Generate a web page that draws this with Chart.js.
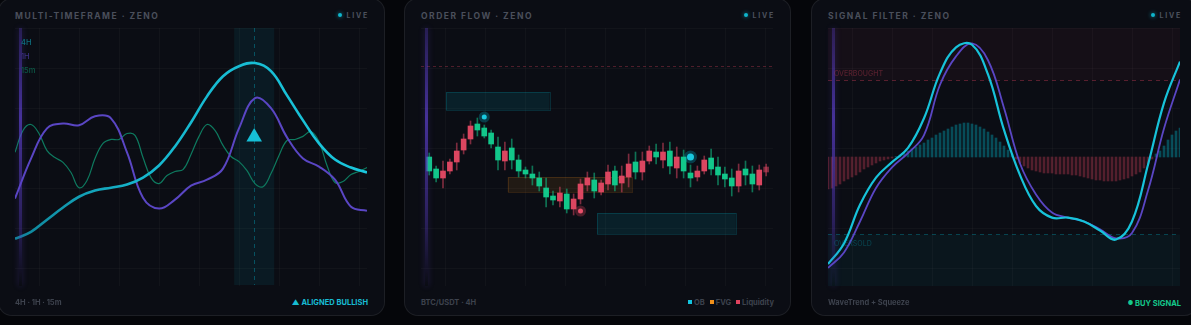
<!DOCTYPE html>
<html>
<head>
<meta charset="utf-8">
<title>Zeno panels</title>
<script src="https://cdn.jsdelivr.net/npm/chart.js@4.4.1/dist/chart.umd.min.js"></script>
<style>
  html, body { margin: 0; padding: 0; }
  body {
    width: 1191px; height: 325px; overflow: hidden; position: relative;
    background: #05060a;
    font-family: Inter, "Noto Sans", sans-serif;
  }
  .card {
    position: absolute; top: -2px; width: 387px; height: 318px;
    box-sizing: border-box; border: 1px solid rgba(255,255,255,0.075);
    border-radius: 14px; background: #0b0d14; overflow: hidden;
  }
  .title {
    position: absolute; left: 16px; top: 12px; font-size: 8.5px; line-height: 10px;
    font-weight: 700; letter-spacing: 1.5px; color: #4a4f5b; white-space: nowrap;
  }
  .live {
    position: absolute; right: 15px; top: 12px; font-size: 7px; line-height: 10px;
    font-weight: 700; letter-spacing: 1.8px; color: #4d525e; white-space: nowrap;
  }
  .live i {
    display: inline-block; width: 4px; height: 4px; border-radius: 50%;
    background: #0fb5cc; box-shadow: 0 0 4px rgba(15,181,204,.8);
    margin-right: 4px; vertical-align: 1px;
  }
  .plot { position: absolute; left: 16px; top: 29px; width: 352px; height: 258px; }
  .grid {
    position: absolute; left: 0; top: 0; right: 0; bottom: 0;
    background-image:
      linear-gradient(to right, rgba(255,255,255,0.028) 1px, transparent 1px),
      linear-gradient(to bottom, rgba(255,255,255,0.028) 1px, transparent 1px);
    background-size: 40px 40px; background-position: 24px 0;
  }
  .plot canvas { position: absolute; left: 0; top: 0; }
  .rail {
    position: absolute; left: 4px; top: 0; width: 3px; height: 258px;
    background: linear-gradient(180deg, rgba(90,60,200,0.35), rgba(95,65,210,0.7) 35%, rgba(90,60,200,0.4) 75%, rgba(90,60,200,0));
    box-shadow: 0 0 6px rgba(95,65,210,0.3);
  }
  .tag { position: absolute; left: 6px; font-size: 7.5px; line-height: 9px; font-weight: 500; white-space: nowrap; }
  .foot {
    position: absolute; left: 16px; top: 299px; font-size: 7.5px; line-height: 10px;
    font-weight: 700; color: #3d424d; white-space: nowrap;
  }
  .foot.right { left: auto; right: 16px; }
  .sq { display: inline-block; width: 4px; height: 4px; margin: 0 2px 0 5px; vertical-align: 1px; }
</style>
</head>
<body>

<div class="card" style="left:-2px">
  <div class="title">MULTI-TIMEFRAME · ZENO</div>
  <div class="live"><i></i>LIVE</div>
  <div class="plot">
    <div class="grid"></div>
    <canvas id="mtfChart" width="352" height="258"></canvas>
    <div class="rail"></div>
    <div class="tag" style="top:10px;color:#0e6f80">4H</div>
    <div class="tag" style="top:24px;color:#3d3183">1H</div>
    <div class="tag" style="top:38px;color:#0c5a47">15m</div>
  </div>
  <div class="foot">4H · 1H · 15m</div>
  <div class="foot right" style="color:#17bcd3">▲ ALIGNED BULLISH</div>
</div>

<div class="card" style="left:404px">
  <div class="title">ORDER FLOW · ZENO</div>
  <div class="live"><i></i>LIVE</div>
  <div class="plot">
    <div class="grid"></div>
    <canvas id="flowChart" width="352" height="258"></canvas>
    <div class="rail"></div>
  </div>
  <div class="foot">BTC/USDT · 4H</div>
  <div class="foot right"><span class="sq" style="background:#13c4de"></span>OB<span class="sq" style="background:#f0901a"></span>FVG<span class="sq" style="background:#e0435e"></span>Liquidity</div>
</div>

<div class="card" style="left:811px">
  <div class="title">SIGNAL FILTER · ZENO</div>
  <div class="live"><i></i>LIVE</div>
  <div class="plot">
    <div class="grid"></div>
    <canvas id="filterChart" width="352" height="258"></canvas>
    <div class="rail"></div>
    <div class="tag" id="obLabel" style="font-size:7px;color:rgba(224,67,94,0.32)">OVERBOUGHT</div>
    <div class="tag" id="osLabel" style="font-size:7px;color:rgba(0,188,212,0.25)">OVERSOLD</div>
  </div>
  <div class="foot">WaveTrend + Squeeze</div>
  <div class="foot right" style="color:#14c98c"><span style="font-size:6px;vertical-align:1px">●</span> BUY SIGNAL</div>
</div>

<script>
// --- Multi-timeframe data (0..100 score) ---
const fast15m = [51.8, 60.3, 62.6, 59.1, 52.5, 49.8, 47.9, 44, 38.1, 40.9, 49.4, 55.3, 56.8, 56.8, 59.1,
  58.4, 49.8, 42, 39.7, 42.8, 44.4, 45.1, 51, 58, 62.6, 60.3, 54.5, 50.2, 48.2, 44.7, 39.7, 38.5, 43.6,
  50.6, 56.4, 56.8, 58, 59.9, 56, 46.7, 40.1, 40.5, 43.2, 44.4, 45.9];
const mid1h = [33.9, 49.4, 61.1, 63, 62.3, 65.8, 65, 51.8, 34.2, 30, 33.5, 38.9, 41.2, 45.5, 61.1, 72.8,
  68.9, 57.6, 49.4, 46.3, 41.2, 30.7, 29.2];
const slow4h = [18.3, 21, 25.7, 30.4, 34.6, 37, 38.1, 39.3, 42, 46.7, 54.1, 63.4, 73.5, 81.3, 85.2, 86.4,
  83.3, 73.9, 64.2, 55.3, 49, 45.9, 44];
const alignZone = [27.4, 32.4];
const alignMark = [29.9, 57.8];

// --- Order flow data ---
const opens = [129, 122, 129, 138, 149, 161, 174, 170, 164, 156, 140, 149, 140, 129, 126, 122, 114, 103, 100, 107,
  91, 101, 116, 122, 109, 117, 128, 115, 124, 136, 128, 139, 149, 143, 148, 134, 143, 129, 122, 129,
  140, 131, 125, 121, 114, 129, 125, 116, 130, 133];
const closes = [143, 131, 122, 129, 138, 150, 161, 176, 172, 167, 153, 139, 152, 140, 130, 126, 122, 112, 104, 99,
  106, 91, 101, 115, 120, 108, 116, 129, 117, 123, 138, 128, 139, 148, 140, 149, 132, 143, 127, 123,
  129, 142, 133, 126, 122, 114, 131, 126, 115, 128];
const highs = [147, 134, 139, 141, 157, 166, 179, 182, 175, 170, 163, 158, 161, 145, 133, 134, 128, 122, 109, 113,
  111, 106, 121, 128, 127, 120, 135, 134, 134, 146, 148, 148, 154, 156, 157, 158, 153, 150, 135, 134,
  144, 151, 143, 133, 131, 136, 139, 134, 135, 136];
const lows = [125, 118, 112, 126, 130, 146, 156, 164, 162, 152, 130, 130, 131, 123, 122, 115, 109, 93, 95, 93,
  87, 85, 96, 109, 102, 105, 110, 109, 108, 113, 121, 120, 136, 136, 132, 126, 122, 122, 113, 119,
  126, 125, 115, 113, 104, 108, 115, 108, 110, 124];
const obZones = [[2.4, 17.5, 190, 208], [24.4, 44.6, 66, 87]];
const fvgZone = [11.4, 29.5, 108, 123];
const liquidityLevel = 234;
const obPoints = [[8, 183, 2.5], [38, 143, 3.5]];
const liqPoints = [[22, 89, 2.5]];

// --- Signal filter data ---
const wtFast = [-83, -67, -37, -16, -4, 7, 30, 65, 85, 87, 64, 21, -14, -38, -47, -47, -50, -57, -64, -50, -6, 42, 74];
const wtSlow = [-86, -74, -50, -24, -8, 3, 17, 56, 78, 88, 75, 38, -5, -29, -43, -47, -50, -56, -63, -59, -26, 22, 60];
const squeeze = [-32, -31, -29, -27, -24, -22, -20, -18, -15, -12, -10, -8, -6, -4, -3, -2, -1, 0.5, 2, 4,
  6, 8, 10, 12, 14, 17, 19, 22, 24, 26, 28, 30, 32, 33, 34, 34, 33, 32, 30, 28,
  25, 22, 19, 15, 11, 7, 3, -2, -6, -9, -11, -13, -14, -15, -16, -16, -16, -17, -17, -17,
  -17, -18, -18, -19, -20, -21, -22, -23, -23, -24, -24, -24, -24, -23, -22, -21, -19, -17, -15, -11,
  -7, -2, 3, 6, 11, 17, 22, 26, 29];
const overbought = 60;
const oversold = -60;

const CYAN = '#17c3da', PURPLE = '#5a46c4', GREEN = '#12c78a', RED = '#db4660';

function xy(values, step) { return values.map((v, i) => ({ x: i * step, y: v })); }

const base = {
  responsive: false, animation: false, events: [],
  layout: { padding: 0, autoPadding: false },
  plugins: { legend: { display: false }, tooltip: { enabled: false } }
};

// --- Multi-timeframe chart ---
const bandPlugin = {
  id: 'alignBand',
  beforeDatasetsDraw(chart) {
    const { ctx, chartArea: a, scales: { x } } = chart;
    const x0 = x.getPixelForValue(alignZone[0]), x1 = x.getPixelForValue(alignZone[1]);
    const xm = Math.round(x.getPixelForValue(alignMark[0])) + 0.5;
    ctx.save();
    ctx.fillStyle = 'rgba(0,188,212,0.08)';
    ctx.fillRect(x0, a.top, x1 - x0, a.bottom - a.top - 1);
    ctx.strokeStyle = 'rgba(0,188,212,0.35)';
    ctx.lineWidth = 1;
    ctx.setLineDash([4, 4]);
    ctx.beginPath(); ctx.moveTo(xm, a.top); ctx.lineTo(xm, a.bottom - 1); ctx.stroke();
    ctx.restore();
  }
};

new Chart(document.getElementById('mtfChart'), {
  type: 'line',
  data: {
    datasets: [
      {
        data: xy(slow4h, 2), borderWidth: 2.6, tension: 0.4, pointRadius: 0, order: 1,
        borderColor: c => {
          const a = c.chart.chartArea;
          if (!a) return CYAN;
          const g = c.chart.ctx.createLinearGradient(a.left, 0, a.right, 0);
          g.addColorStop(0, '#0f8499'); g.addColorStop(0.35, '#16b6cd'); g.addColorStop(1, '#1ac6dc');
          return g;
        }
      },
      { data: xy(mid1h, 2), borderColor: PURPLE, borderWidth: 2, tension: 0.4, pointRadius: 0, order: 2 },
      { data: xy(fast15m, 1), borderColor: '#0e7a5f', borderWidth: 1.2, tension: 0.4, pointRadius: 0, order: 3 },
      {
        type: 'scatter', data: [{ x: alignMark[0], y: alignMark[1] }], order: 0,
        pointStyle: 'triangle', pointRadius: 9, backgroundColor: '#16bfd6', borderWidth: 0
      }
    ]
  },
  options: {
    ...base,
    scales: {
      x: { type: 'linear', min: 0, max: 44, display: false },
      y: { min: 0, max: 100, display: false }
    }
  },
  plugins: [bandPlugin]
});

// --- Order flow chart ---
const bull = opens.map((o, i) => closes[i] >= opens[i]);
const last = opens.length - 1;
const bodyColors = bull.map((b, i) => i === last ? (b ? 'rgba(18,199,138,0.55)' : 'rgba(219,70,96,0.55)') : (b ? GREEN : RED));
const wickColors = bull.map(b => b ? 'rgba(18,199,138,0.55)' : 'rgba(219,70,96,0.55)');

const zonePlugin = {
  id: 'flowZones',
  beforeDatasetsDraw(chart) {
    const { ctx, chartArea: a, scales: { x, y } } = chart;
    const box = (z, fill, stroke) => {
      const x0 = x.getPixelForValue(z[0]), x1 = x.getPixelForValue(z[1]);
      const y0 = y.getPixelForValue(z[3]), y1 = y.getPixelForValue(z[2]);
      ctx.fillStyle = fill; ctx.fillRect(x0, y0, x1 - x0, y1 - y0);
      ctx.strokeStyle = stroke; ctx.lineWidth = 1;
      ctx.strokeRect(Math.round(x0) + 0.5, Math.round(y0) + 0.5, Math.round(x1 - x0), Math.round(y1 - y0));
    };
    ctx.save();
    obZones.forEach(z => box(z, 'rgba(0,170,200,0.12)', 'rgba(0,188,212,0.18)'));
    box(fvgZone, 'rgba(240,144,26,0.10)', 'rgba(240,144,26,0.16)');
    const ly = Math.round(y.getPixelForValue(liquidityLevel)) + 0.5;
    ctx.strokeStyle = 'rgba(224,67,94,0.32)';
    ctx.setLineDash([3, 3]);
    ctx.beginPath(); ctx.moveTo(a.left, ly); ctx.lineTo(a.right, ly); ctx.stroke();
    ctx.restore();
  }
};

new Chart(document.getElementById('flowChart'), {
  type: 'bar',
  data: {
    datasets: [
      {
        data: lows.map((l, i) => ({ x: i, y: [l, highs[i]] })),
        backgroundColor: wickColors, barThickness: 1, grouped: false, order: 4
      },
      {
        data: opens.map((o, i) => ({ x: i, y: [o, closes[i]] })),
        backgroundColor: bodyColors, barThickness: 5, grouped: false, minBarLength: 1, order: 3
      },
      {
        type: 'scatter', order: 2,
        data: obPoints.concat(liqPoints).map(p => ({ x: p[0], y: p[1] })),
        pointRadius: obPoints.concat(liqPoints).map(p => p[2] + 3),
        backgroundColor: obPoints.map(() => 'rgba(0,188,212,0.28)').concat(liqPoints.map(() => 'rgba(224,67,94,0.3)')),
        borderWidth: 0
      },
      {
        type: 'scatter', order: 1,
        data: obPoints.concat(liqPoints).map(p => ({ x: p[0], y: p[1] })),
        pointRadius: obPoints.concat(liqPoints).map(p => p[2]),
        backgroundColor: obPoints.map(() => '#19c9e0').concat(liqPoints.map(() => '#e8506a')),
        borderWidth: 0
      }
    ]
  },
  options: {
    ...base,
    scales: {
      x: { type: 'linear', offset: false, min: -1.2, max: 50, display: false },
      y: { min: 14, max: 272, display: false }
    }
  },
  plugins: [zonePlugin]
});

// --- Signal filter chart ---
const levelPlugin = {
  id: 'levels',
  beforeDatasetsDraw(chart) {
    const { ctx, chartArea: a, scales: { y } } = chart;
    const yOb = Math.round(y.getPixelForValue(overbought)) + 0.5;
    const yOs = Math.round(y.getPixelForValue(oversold)) + 0.5;
    ctx.save();
    ctx.fillStyle = 'rgba(224,67,94,0.05)';
    ctx.fillRect(a.left, a.top, a.right - a.left, yOb - a.top);
    ctx.fillStyle = 'rgba(0,188,212,0.05)';
    ctx.fillRect(a.left, yOs, a.right - a.left, a.bottom - yOs);
    ctx.lineWidth = 1;
    ctx.setLineDash([4, 4]);
    ctx.strokeStyle = 'rgba(224,67,94,0.35)';
    ctx.beginPath(); ctx.moveTo(a.left, yOb); ctx.lineTo(a.right, yOb); ctx.stroke();
    ctx.strokeStyle = 'rgba(0,188,212,0.3)';
    ctx.beginPath(); ctx.moveTo(a.left, yOs); ctx.lineTo(a.right, yOs); ctx.stroke();
    ctx.restore();
  }
};

const filterChart = new Chart(document.getElementById('filterChart'), {
  type: 'bar',
  data: {
    datasets: [
      {
        data: squeeze.map((v, i) => ({ x: i, y: v })), yAxisID: 'y2', order: 3,
        backgroundColor: squeeze.map(v => v >= 0 ? 'rgba(0,188,212,0.36)' : 'rgba(224,67,94,0.34)'),
        barThickness: 2, grouped: false
      },
      { type: 'line', data: xy(wtSlow, 4), borderColor: PURPLE, borderWidth: 1.8, tension: 0.4, pointRadius: 0, order: 2 },
      { type: 'line', data: xy(wtFast, 4), borderColor: CYAN, borderWidth: 2.2, tension: 0.4, pointRadius: 0, order: 1 }
    ]
  },
  options: {
    ...base,
    scales: {
      x: { type: 'linear', offset: false, min: 0, max: 88, display: false },
      y: { min: -100, max: 100, display: false },
      y2: { min: -129, max: 129, display: false }
    }
  },
  plugins: [levelPlugin]
});

// zone labels follow the level lines
const ys = filterChart.scales.y;
document.getElementById('obLabel').style.top = (ys.getPixelForValue(overbought) - 11) + 'px';
document.getElementById('osLabel').style.top = (ys.getPixelForValue(oversold) + 5) + 'px';
</script>
</body>
</html>
